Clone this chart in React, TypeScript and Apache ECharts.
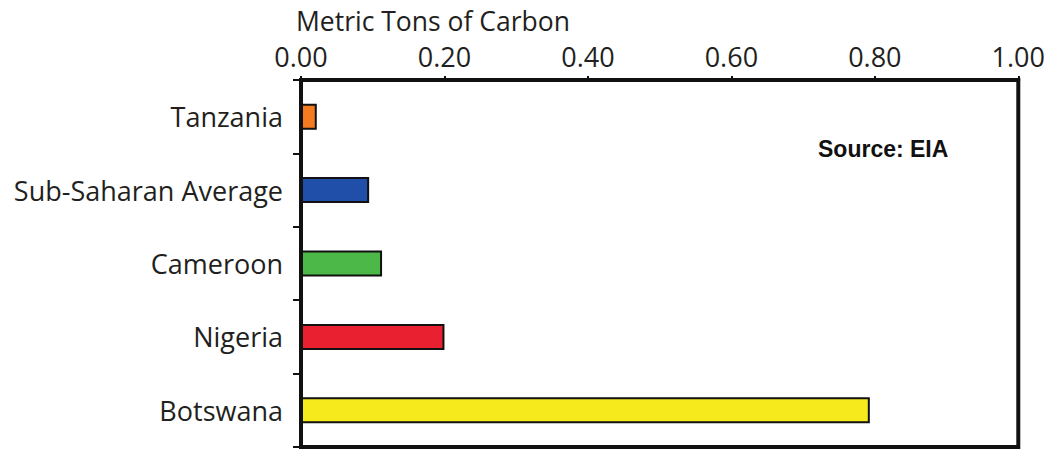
import React, { useEffect, useRef } from "react";
import * as echarts from "echarts";

const categories = ["Tanzania", "Sub-Saharan Average", "Cameroon", "Nigeria", "Botswana"];
const values = [0.022, 0.095, 0.113, 0.2, 0.793];
const barColors = ["#f47b20", "#1f4fa8", "#4cb848", "#e8202f", "#f6ea1c"];
const xTicks = [0, 0.2, 0.4, 0.6, 0.8, 1.0];

export default function App() {
  const ref = useRef<HTMLDivElement>(null);
  useEffect(() => {
    if (!ref.current) return;
    const chart = echarts.init(ref.current, null, { renderer: "svg" });
    chart.setOption({
      animation: false,
      backgroundColor: "#ffffff",
      title: {
        text: "Metric Tons of Carbon",
        left: 291,
        top: 2,
        textStyle: { fontFamily: "Open Sans", fontSize: 26.5, fontWeight: "normal", color: "#231f20" },
      },
      grid: {
        left: 301,
        right: 14,
        top: 80,
        bottom: 3,
        show: true,
        borderColor: "#111",
        borderWidth: 4,
        backgroundColor: "#ffffff",
      },
      xAxis: {
        type: "value",
        position: "top",
        min: xTicks[0],
        max: xTicks[xTicks.length - 1],
        interval: 0.2,
        axisLine: { show: true, lineStyle: { color: "#111", width: 4 } },
        axisTick: { show: true, length: 4, lineStyle: { color: "#111", width: 2 } },
        splitLine: { show: false },
        axisLabel: {
          margin: 10,
          fontFamily: "Open Sans",
          fontSize: 27,
          color: "#231f20",
          formatter: (v: number) => v.toFixed(2),
        },
      },
      yAxis: {
        type: "category",
        inverse: true,
        data: categories,
        axisLine: { show: true, lineStyle: { color: "#111", width: 4 } },
        axisTick: { show: true, length: 8, lineStyle: { color: "#111", width: 2 } },
        axisLabel: {
          margin: 18,
          fontFamily: "Open Sans",
          fontSize: 27,
          color: "#231f20",
        },
      },
      graphic: [
        {
          type: "text",
          left: 818,
          top: 137,
          style: {
            text: "Source: EIA",
            fontFamily: "Liberation Sans",
            fontSize: 23,
            fontWeight: "bold",
            fill: "#111",
          },
        },
      ],
      series: [
        {
          type: "bar",
          barWidth: 26,
          data: values.map((v, i) => ({
            value: v,
            itemStyle: { color: barColors[i], borderColor: "#111", borderWidth: 2 },
          })),
        },
      ],
    });
    return () => chart.dispose();
  }, []);
  return (
    <div
      ref={ref}
      style={{ position: "fixed", left: 0, top: 0, width: 1048, height: 450 }}
    />
  );
}
